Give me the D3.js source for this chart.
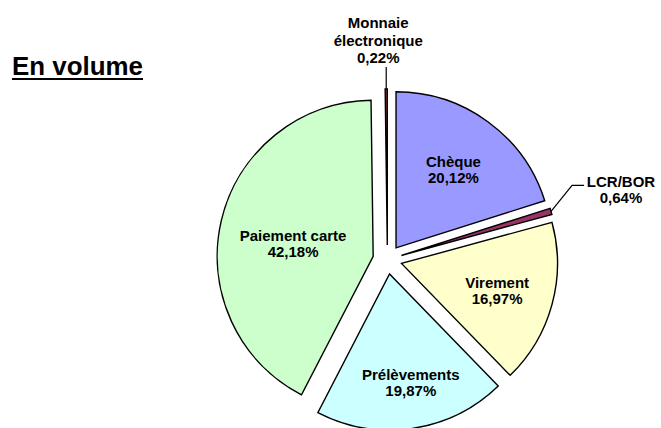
<!DOCTYPE html>
<html>
<head>
<meta charset="utf-8">
<script src="https://cdn.jsdelivr.net/npm/d3@7"></script>
<style>
  body { margin: 0; background: #fff; }
  text { font-family: Arial, "Liberation Sans", sans-serif; font-weight: bold; fill: #000; }
</style>
</head>
<body>
<div id="chart"></div>
<script>
// data
const categories = ["Chèque", "LCR/BOR", "Virement", "Prélèvements", "Paiement carte", "Monnaie électronique"];
const values = [20.12, 0.64, 16.97, 19.87, 42.18, 0.22];
const colors = ["#9999ff", "#993366", "#ffffcc", "#ccffff", "#ccffcc", "#993333"];
const title = "En volume";

var width = 661, height = 428;
var cx = 387.4, cy = 259.6,
    radius = 156,
    explode = 14.6;

// small hand nudges for the inside labels, like Excel places them
var labelNudge = {"Paiement carte": [-6, 4], "Prélèvements": [7, 12]};

var fr = d3.formatLocale({decimal: ",", thousands: " ", grouping: [3], currency: ["", "€"]});
var pct = fr.format(".2f");

var svg = d3.select("#chart").append("svg")
    .attr("width", width)
    .attr("height", height);

// title, underlined
svg.append("text")
    .attr("x", 12)
    .attr("y", 75)
    .style("font-size", "25px")
    .attr("textLength", 131)
    .attr("lengthAdjust", "spacingAndGlyphs")
    .text(title);
svg.append("rect")
    .attr("x", 12).attr("y", 78)
    .attr("width", 131).attr("height", 2)
    .attr("fill", "#000");

var data = categories.map(function(c, i) { return {name: c, value: values[i], color: colors[i]}; });

var pie = d3.pie().sort(null).value(function(d) { return d.value; });
var arc = d3.arc().innerRadius(0).outerRadius(radius);

var g = svg.append("g").attr("transform", "translate(" + cx + "," + cy + ")");

var slices = g.selectAll(".slice")
    .data(pie(data))
    .enter().append("g")
    .attr("class", "slice")
    .attr("transform", function(d) {
      var m = (d.startAngle + d.endAngle) / 2;
      return "translate(" + (explode * Math.sin(m)) + "," + (-explode * Math.cos(m)) + ")";
    });

slices.append("path")
    .attr("d", arc)
    .attr("fill", function(d) { return d.data.color; })
    .attr("stroke", "#000")
    .attr("stroke-width", 1.4)
    .attr("stroke-linejoin", "miter");

// inside labels at the sector centroid
function centroidDist(d) {
  var th = d.endAngle - d.startAngle;
  return 2 * radius * Math.sin(th / 2) / (1.5 * th);
}

var big = slices.filter(function(d) { return d.data.value >= 1; });
big.each(function(d) {
  var m = (d.startAngle + d.endAngle) / 2, r = centroidDist(d);
  var nud = labelNudge[d.data.name] || [0, 0];
  var x = r * Math.sin(m) + nud[0], y = -r * Math.cos(m) + nud[1];
  var tx = d3.select(this).append("text")
      .attr("text-anchor", "middle")
      .style("font-size", "15px");
  tx.append("tspan").attr("x", x).attr("y", y - 2).text(d.data.name);
  tx.append("tspan").attr("x", x).attr("y", y + 14).text(pct(d.data.value) + "%");
});

// small slices: label outside with a leader line
var small = slices.filter(function(d) { return d.data.value < 1; });
small.each(function(d) {
  var m = (d.startAngle + d.endAngle) / 2;
  var p0 = [radius * Math.sin(m), -radius * Math.cos(m)];
  var s = d3.select(this);
  var words = d.data.name.split(" ");
  if (Math.sin(m) > 0.5) {
    // right side: elbow then horizontal
    var p1 = [p0[0] + 21, p0[1] - 26], p2 = [p1[0] + 12, p1[1]];
    s.append("path")
        .attr("d", d3.line()([p0, p1, p2]))
        .attr("fill", "none").attr("stroke", "#000").attr("stroke-width", 1.2);
    var lx = p2[0] + 37;
    var tx = s.append("text").attr("text-anchor", "middle").style("font-size", "15px");
    tx.append("tspan").attr("x", lx).attr("y", p1[1] + 2).text(d.data.name);
    tx.append("tspan").attr("x", lx).attr("y", p1[1] + 18).text(pct(d.data.value) + "%");
  } else {
    // top: straight leader up
    var p1b = [p0[0], p0[1] - 22];
    s.append("path")
        .attr("d", d3.line()([p0, p1b]))
        .attr("fill", "none").attr("stroke", "#000").attr("stroke-width", 1.2);
    var lines = words.concat([pct(d.data.value) + "%"]);
    var tx2 = s.append("text").attr("text-anchor", "middle").style("font-size", "15px");
    lines.forEach(function(l, i) {
      tx2.append("tspan")
          .attr("x", p1b[0] - 8)
          .attr("y", p1b[1] - 4 - (lines.length - 1 - i) * 17.5)
          .text(l);
    });
  }
});
</script>
</body>
</html>
